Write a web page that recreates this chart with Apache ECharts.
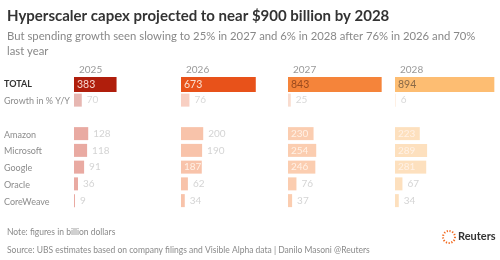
<!DOCTYPE html>
<html>
<head>
<meta charset="utf-8">
<script src="https://cdn.jsdelivr.net/npm/echarts@6/dist/echarts.min.js"></script>
<style>
  html, body { margin: 0; padding: 0; background: #fff; }
</style>
</head>
<body>
<div id="main" style="width: 500px; height: 260px;"></div>
<script>
// data (billion dollars)
const years = ['2025', '2026', '2027', '2028'];
const rows = ['TOTAL', 'Growth in % Y/Y', '', 'Amazon', 'Microsoft', 'Google', 'Oracle', 'CoreWeave'];
const total = [383, 673, 843, 894];
const growth = [70, 76, 25, 6];
const amazon = [128, 200, 230, 223];
const microsoft = [118, 190, 254, 289];
const google = [91, 187, 246, 281];
const oracle = [36, 62, 76, 67];
const coreweave = [9, 34, 37, 34];

// which company labels sit inside their bar, per year
const insideLabels = [[], ['Google'], ['Amazon', 'Microsoft', 'Google'], ['Amazon', 'Microsoft', 'Google']];

const font = 'Lato, "Open Sans", sans-serif';
const totalColors = ['#b01e0c', '#e8521a', '#f5843a', '#fdbd72'];
const totalText = ['#f6d6cf', '#fbe0d0', '#9a4a1e', '#8a6a48'];
const softColors = ['#e9aaa2', '#f8c3aa', '#fbcdb0', '#fde0be'];
const growthColors = ['#e7b7b2', '#f8cfc2', '#f9dccf', '#fde8d6'];

const myChart = echarts.init(document.getElementById('main'));

const grids = [], xAxes = [], yAxes = [], series = [];
const lefts = [74, 181, 288, 395];

years.forEach((yr, i) => {
  grids.push({ left: lefts[i], top: 76, width: 100, height: 134 });
  xAxes.push({ gridIndex: i, type: 'value', min: 0, max: 900, show: false });
  yAxes.push({
    gridIndex: i, type: 'category', data: rows, inverse: true,
    axisLine: { show: false }, axisTick: { show: false }, splitLine: { show: false },
    axisLabel: {
      show: i === 0, align: 'left', margin: 70, fontFamily: font, fontSize: 9,
      color: '#8c8c8c',
      formatter: v => v === 'TOTAL' ? '{b|TOTAL}' : v,
      rich: { b: { fontWeight: 'bold', color: '#333', fontSize: 9, fontFamily: font } }
    }
  });

  const comp = { Amazon: amazon, Microsoft: microsoft, Google: google, Oracle: oracle, CoreWeave: coreweave };
  const lower = rows.map(r => {
    if (r === 'Growth in % Y/Y') {
      return {
        value: growth[i], itemStyle: { color: growthColors[i] },
        label: { show: true, position: 'right', distance: 5, color: '#d8d8d8', formatter: String(growth[i]) }
      };
    }
    if (comp[r]) {
      const v = comp[r][i];
      const inside = insideLabels[i].includes(r);
      return {
        value: v, itemStyle: { color: softColors[i] },
        label: inside
          ? { show: true, position: 'insideLeft', distance: 3, color: '#fff1e6', formatter: String(v) }
          : { show: true, position: 'right', distance: 5, color: '#d4d4d4', formatter: String(v) }
      };
    }
    return '-';
  });

  series.push({
    type: 'bar', xAxisIndex: i, yAxisIndex: i, barWidth: 13, silent: true,
    label: { fontFamily: font, fontSize: 10 },
    data: lower
  });
  series.push({
    type: 'bar', xAxisIndex: i, yAxisIndex: i, barWidth: 15, barGap: '-100%', silent: true,
    itemStyle: { color: totalColors[i] },
    label: {
      show: true, position: 'insideLeft', distance: 3, color: totalText[i],
      fontFamily: font, fontSize: 10.5
    },
    data: rows.map(r => r === 'TOTAL' ? total[i] : '-')
  });
});

const titles = [
  {
    text: 'Hyperscaler capex projected to near $900 billion by 2028',
    left: 2, top: 4,
    textStyle: { fontFamily: font, fontSize: 15, fontWeight: 'bold', color: '#333' }
  },
  {
    text: 'But spending growth seen slowing to 25% in 2027 and 6% in 2028 after 76% in 2026 and 70%\nlast year',
    left: 2, top: 24,
    textStyle: { fontFamily: font, fontSize: 11.3, fontWeight: 'normal', color: '#888', lineHeight: 15 }
  },
  {
    text: 'Note: figures in billion dollars',
    left: 2, top: 223,
    textStyle: { fontFamily: font, fontSize: 8.5, fontWeight: 'normal', color: '#8a8a8a' }
  },
  {
    text: 'Source: UBS estimates based on company filings and Visible Alpha data | Danilo Masoni @Reuters',
    left: 2, top: 241,
    textStyle: { fontFamily: font, fontSize: 8.5, fontWeight: 'normal', color: '#8a8a8a' }
  }
].concat(years.map((yr, i) => ({
  text: yr, left: lefts[i], top: 60,
  textStyle: { fontFamily: font, fontSize: 10, fontWeight: 'normal', color: '#999' }
})));

myChart.setOption({
  animation: false,
  title: titles,
  grid: grids,
  xAxis: xAxes,
  yAxis: yAxes,
  series: series,
  graphic: [
    {
      type: 'circle', shape: { cx: 449, cy: 237, r: 6 },
      style: { fill: 'none', stroke: '#f26b21', lineWidth: 2, lineDash: [1.2, 1.6] }
    },
    {
      type: 'text', left: 458, top: 231,
      style: { text: 'Reuters', font: 'bold 11px ' + font, fill: '#333' }
    }
  ]
});
</script>
</body>
</html>
